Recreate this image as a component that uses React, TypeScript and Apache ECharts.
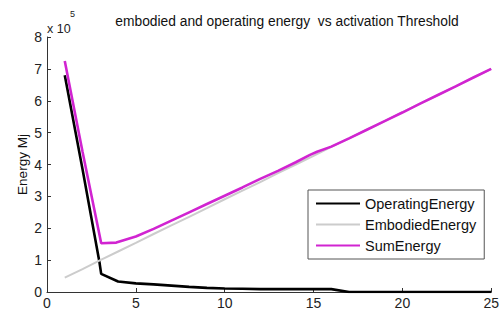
import React, { useEffect, useRef } from "react";
import * as echarts from "echarts";

const titleText = "embodied and operating energy  vs activation Threshold";
const yAxisName = "Energy Mj";
const seriesNames = ["OperatingEnergy", "EmbodiedEnergy", "SumEnergy"];

// values in units of 1e5 MJ
const operatingX = [1, 2, 2.95, 3.05, 4, 5, 6, 7, 8, 9, 10, 11, 12, 13, 14, 15, 16, 17, 18, 19, 20, 21, 22, 23, 24, 25];
const operatingY = [6.8, 3.85, 0.94, 0.57, 0.33, 0.27, 0.24, 0.2, 0.16, 0.13, 0.11, 0.1, 0.09, 0.09, 0.09, 0.09, 0.09, 0, 0, 0, 0, 0, 0, 0, 0, 0];

const embodiedX = [1, 2, 3, 4, 5, 6, 7, 8, 9, 10, 11, 12, 13, 14, 15, 16, 17, 18, 19, 20, 21, 22, 23, 24, 25];
const embodiedY = [0.45, 0.72, 1.0, 1.27, 1.54, 1.82, 2.09, 2.36, 2.63, 2.91, 3.18, 3.45, 3.73, 4.0, 4.27, 4.55, 4.82, 5.09, 5.36, 5.64, 5.91, 6.18, 6.45, 6.73, 7.0];

const sumX = [1, 2, 3.05, 3.9, 5, 6, 7, 8, 9, 10, 11, 12, 13, 14, 14.8, 15.2, 16, 17, 18, 19, 20, 21, 22, 23, 24, 25];
const sumY = [7.25, 4.4, 1.53, 1.55, 1.74, 1.98, 2.24, 2.5, 2.76, 3.02, 3.28, 3.55, 3.8, 4.07, 4.3, 4.4, 4.56, 4.82, 5.09, 5.36, 5.63, 5.91, 6.18, 6.45, 6.73, 7.0];

const pairs = (xs: number[], ys: number[]) => xs.map((x, i) => [x, ys[i]]);

const FONT = "Liberation Sans, Arial, sans-serif";

export default function App() {
  const ref = useRef<HTMLDivElement>(null);
  useEffect(() => {
    if (!ref.current) return;
    const chart = echarts.init(ref.current, undefined, { renderer: "svg" });
    chart.setOption({
      animation: false,
      backgroundColor: "#ffffff",
      textStyle: { fontFamily: FONT },
      title: {
        text: titleText,
        left: 282,
        top: 9,
        textAlign: "center",
        textStyle: { fontSize: 13.8, fontWeight: "normal", color: "#111", fontFamily: FONT },
      },
      graphic: [
        { type: "text", left: 47, top: 22, style: { text: "x 10", fontSize: 12.5, fill: "#222", fontFamily: FONT } },
        { type: "text", left: 70, top: 9, style: { text: "5", fontSize: 9, fill: "#222", fontFamily: FONT } },
      ],
      grid: { left: 47, right: 10, top: 37, bottom: 20, containLabel: false },
      legend: {
        orient: "vertical",
        left: 308,
        top: 190,
        padding: [6, 8, 6, 8],
        itemGap: 6,
        itemWidth: 44,
        itemHeight: 14,
        borderColor: "#555",
        borderWidth: 1,
        borderRadius: 0,
        backgroundColor: "#fff",
        icon: "path://M0,6 L44,6 L44,8 L0,8 Z",
        textStyle: { fontSize: 14.5, color: "#111", fontFamily: FONT },
        data: seriesNames,
      },
      xAxis: {
        type: "value",
        min: 0,
        max: 25,
        interval: 5,
        splitLine: { show: false },
        axisLine: { lineStyle: { color: "#333", width: 1 } },
        axisTick: { inside: true, length: 4, lineStyle: { color: "#333" } },
        axisLabel: { fontSize: 14, color: "#222", margin: 4, fontFamily: FONT },
      },
      yAxis: {
        type: "value",
        min: 0,
        max: 8,
        interval: 1,
        name: yAxisName,
        nameLocation: "middle",
        nameGap: 18,
        nameMoveOverlap: false,
        nameTextStyle: { fontSize: 13.5, color: "#111", fontFamily: FONT },
        splitLine: { show: false },
        axisLine: { show: true, lineStyle: { color: "#333", width: 1 } },
        axisTick: { show: true, inside: true, length: 4, lineStyle: { color: "#333" } },
        axisLabel: { fontSize: 14, color: "#222", margin: 5, fontFamily: FONT },
      },
      series: [
        {
          name: seriesNames[0],
          type: "line",
          data: pairs(operatingX, operatingY),
          showSymbol: false,
          symbol: "none",
          color: "#000000",
          lineStyle: { color: "#000000", width: 2.6 },
          z: 2,
        },
        {
          name: seriesNames[1],
          type: "line",
          data: pairs(embodiedX, embodiedY),
          showSymbol: false,
          symbol: "none",
          color: "#cccccc",
          lineStyle: { color: "#cccccc", width: 2 },
          z: 3,
        },
        {
          name: seriesNames[2],
          type: "line",
          data: pairs(sumX, sumY),
          showSymbol: false,
          symbol: "none",
          color: "#d124d1",
          lineStyle: { color: "#d124d1", width: 2.6 },
          z: 4,
        },
      ],
    });
    return () => chart.dispose();
  }, []);
  return <div ref={ref} style={{ width: 502, height: 312, position: "absolute", left: 0, top: 0 }} />;
}
